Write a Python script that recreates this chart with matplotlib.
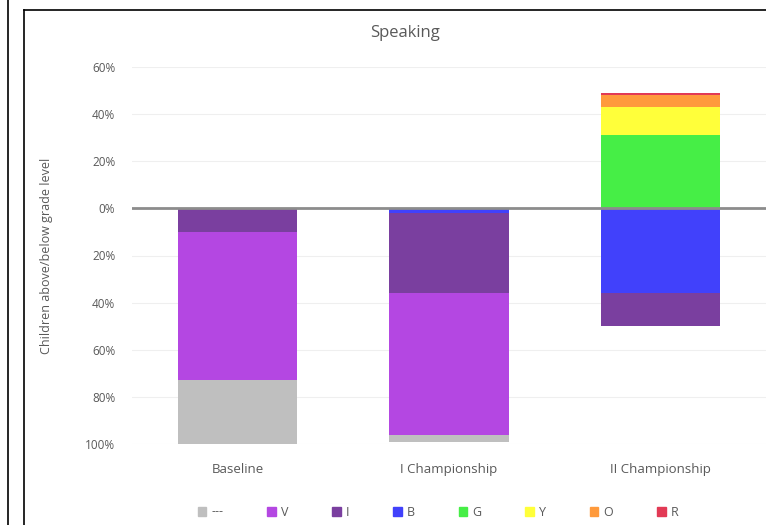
import matplotlib.pyplot as plt
from matplotlib.lines import Line2D
import numpy as np

# data (percent of children, below grade level negative)
categories = ["Baseline", "I Championship", "II Championship"]
levels = ["---", "V", "I", "B", "G", "Y", "O", "R"]
level_colors = ["#bfbfbf", "#b447e2", "#7a3f9f", "#4141fb", "#46ee46", "#ffff3a", "#ff9a3c", "#e23a55"]

none_vals = [-27, -3, 0]
v_vals = [-63, -60, 0]
i_vals = [-10, -34, -14]
b_vals = [0, -2, -36]
g_vals = [0, 0, 31]
y_vals = [0, 0, 12]
o_vals = [0, 0, 5]
r_vals = [0, 0, 1]

ytick_vals = [60, 40, 20, 0, -20, -40, -60, -80, -100]

series = {"---": none_vals, "V": v_vals, "I": i_vals, "B": b_vals,
          "G": g_vals, "Y": y_vals, "O": o_vals, "R": r_vals}
colors = dict(zip(levels, level_colors))

# stacking order away from the zero line
neg_order = ["B", "I", "V", "---"]
pos_order = ["G", "Y", "O", "R"]

plt.rcParams['font.family'] = ['Open Sans', 'DejaVu Sans']
text_color = "#595959"

fig = plt.figure(figsize=(7.66, 5.25), dpi=100)
ax = fig.add_axes([132 / 766, 1 - 444 / 525, 1 - 132 / 766, (444 - 67) / 525])

x = np.arange(len(categories))
width = 0.566

bottom = np.zeros(len(categories))
for lev in neg_order:
    vals = np.array(series[lev], dtype=float)
    ax.bar(x, vals, width, bottom=bottom, color=colors[lev], linewidth=0)
    bottom = bottom + vals

bottom = np.zeros(len(categories))
for lev in pos_order:
    vals = np.array(series[lev], dtype=float)
    ax.bar(x, vals, width, bottom=bottom, color=colors[lev], linewidth=0)
    bottom = bottom + vals

ax.axhline(0, color="#8c8c8c", linewidth=2, zorder=3)

ax.set_xlim(-0.5, 2.5)
ax.set_ylim(-100, 60)
ax.set_yticks(ytick_vals)
ax.set_yticklabels([f"{abs(v)}%" for v in ytick_vals], color=text_color, fontsize=8.5)
ax.set_xticks(x)
ax.set_xticklabels(categories, color=text_color, fontsize=9.5)
ax.tick_params(length=0, pad=12)
ax.tick_params(axis='x', pad=14)
ax.yaxis.grid(True, color="#efefef", linewidth=0.8)
ax.set_axisbelow(True)
for s in ax.spines.values():
    s.set_visible(False)

ax.set_ylabel("Children above/below grade level", color=text_color, fontsize=9)
ax.yaxis.set_label_coords(-0.125, 0.5)

fig.text(405 / 766, 1 - 33 / 525, "Speaking", ha="center", va="center",
         color=text_color, fontsize=12)

handles = [plt.Rectangle((0, 0), 1, 1, color=colors[lev]) for lev in levels]
fig.legend(handles, levels, loc="center", bbox_to_anchor=(438 / 766, 1 - 512 / 525),
           ncol=len(levels), frameon=False, handlelength=0.7, handleheight=0.7,
           handletextpad=0.4, columnspacing=3.5, fontsize=9, labelcolor=text_color)

# frame lines of the surrounding page
fig.add_artist(Line2D([8 / 766, 8 / 766], [0, 1], color="black", linewidth=1.2))
fig.add_artist(Line2D([24 / 766, 24 / 766], [0, 1 - 10 / 525], color="black", linewidth=1.2))
fig.add_artist(Line2D([24 / 766, 1], [1 - 10 / 525, 1 - 10 / 525], color="black", linewidth=1.2))

fig.savefig("out.png", dpi=100)
